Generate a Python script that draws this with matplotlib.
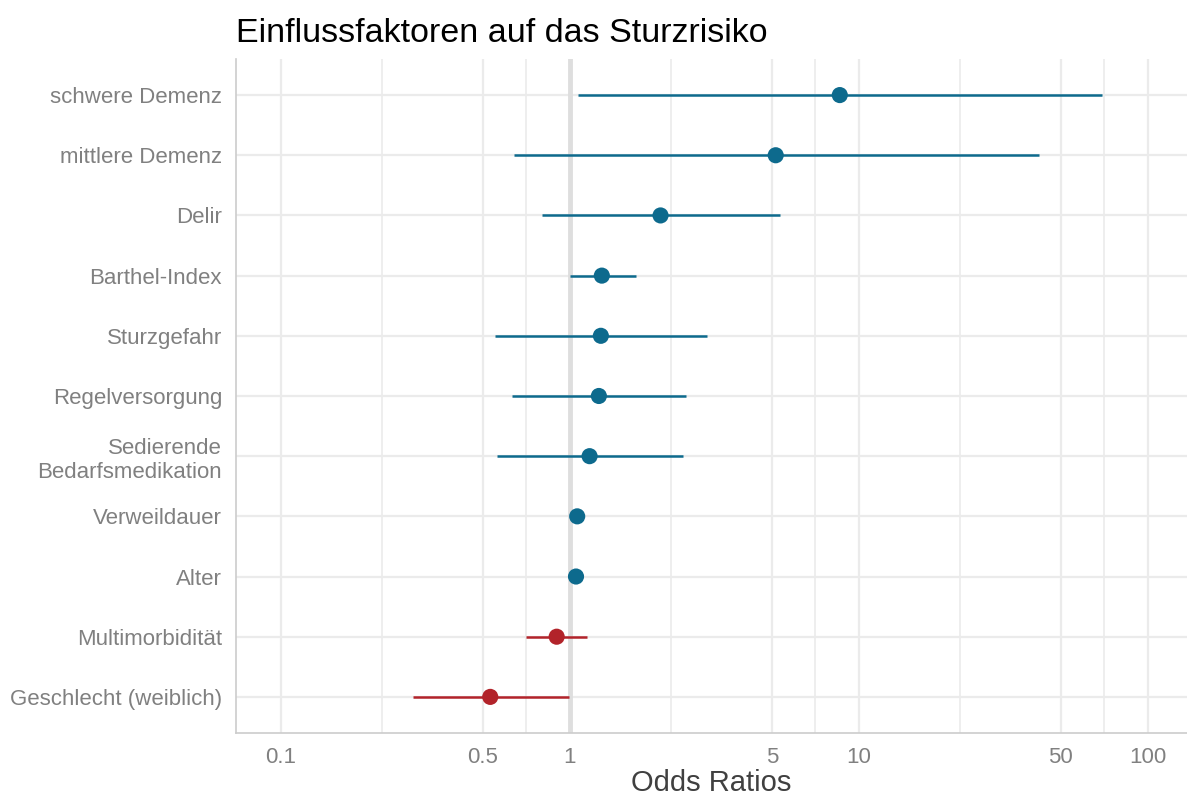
import matplotlib
matplotlib.use('Agg')
import matplotlib.pyplot as plt
import numpy as np

# Data, bottom to top
labels = ["Geschlecht (weiblich)", "Multimorbidität", "Alter", "Verweildauer",
          "Sedierende\nBedarfsmedikation", "Regelversorgung", "Sturzgefahr",
          "Barthel-Index", "Delir", "mittlere Demenz", "schwere Demenz"]
odds = [0.53, 0.90, 1.05, 1.06, 1.17, 1.26, 1.28, 1.29, 2.06, 5.16, 8.6]
ci_low = [0.287, 0.705, 1.03, 1.04, 0.56, 0.63, 0.55, 1.0, 0.80, 0.643, 1.07]
ci_high = [0.99, 1.15, 1.07, 1.08, 2.46, 2.52, 2.98, 1.69, 5.32, 42.0, 69.5]
x_ticks = [0.1, 0.5, 1, 5, 10, 50, 100]
x_tick_labels = ["0.1", "0.5", "1", "5", "10", "50", "100"]

blue = '#0d6a8d'
red = '#b2232a'
grid_col = '#ebebeb'

plt.rcParams['font.family'] = ['Liberation Sans', 'DejaVu Sans']

fig = plt.figure(figsize=(11.87, 7.99), dpi=100)
ax = fig.add_axes([0.1988, 0.0826, 0.8012, 0.8436])

ax.set_xscale('log')
ax.set_xlim(0.0698, 137)
ax.set_ylim(0.4, len(labels) + 0.6)

# Grid: major at breaks, minor at geometric midpoints (ggplot style)
minor = [np.sqrt(x_ticks[i] * x_ticks[i + 1]) for i in range(len(x_ticks) - 1)]
for v in x_ticks:
    ax.axvline(v, color=grid_col, lw=1.6, zorder=0)
for v in minor:
    ax.axvline(v, color=grid_col, lw=1.2, zorder=0)
y = np.arange(1, len(labels) + 1)
for yy in y:
    ax.axhline(yy, color=grid_col, lw=1.6, zorder=0)
# reference line at OR = 1
ax.axvline(1, color='#dedede', lw=3.5, zorder=0.5)

colors = [red if o < 1 else blue for o in odds]
for i in range(len(labels)):
    ax.plot([ci_low[i], ci_high[i]], [y[i], y[i]], color=colors[i], lw=1.8,
            solid_capstyle='butt', zorder=2)
ax.scatter(odds, y, s=135, color=colors, zorder=3, edgecolors='none')

ax.set_xticks(x_ticks)
ax.set_xticklabels(x_tick_labels)
ax.xaxis.set_minor_locator(matplotlib.ticker.NullLocator())
ax.set_yticks(y)
ax.set_yticklabels(labels)
ax.tick_params(axis='both', length=0, labelsize=16, labelcolor='#808080')
ax.tick_params(axis='x', pad=10)
ax.tick_params(axis='y', pad=10)

for side in ['top', 'right']:
    ax.spines[side].set_visible(False)
for side in ['left', 'bottom']:
    ax.spines[side].set_color('#cccccc')
    ax.spines[side].set_linewidth(1.2)

ax.set_xlabel('Odds Ratios', fontsize=21, color='#404040', labelpad=1)
ax.set_title('Einflussfaktoren auf das Sturzrisiko', fontsize=24.5, loc='left',
             color='black', pad=12)

fig.savefig('out.png', dpi=100)
